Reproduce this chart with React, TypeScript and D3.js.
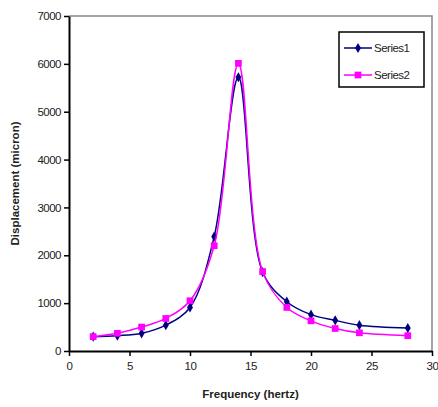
import React, { useEffect, useRef } from 'react';
import * as d3 from 'd3';

// Chart data
const frequency = [2, 4, 6, 8, 10, 12, 14, 16, 18, 20, 22, 24, 28];
const series1 = [300, 320, 370, 540, 910, 2390, 5720, 1650, 1030, 760, 640, 540, 480];
const series2 = [300, 370, 500, 680, 1050, 2200, 6010, 1660, 910, 630, 470, 380, 320];
const seriesNames = ['Series1', 'Series2'];
const xTicks = [0, 5, 10, 15, 20, 25, 30];
const yTicks = [0, 1000, 2000, 3000, 4000, 5000, 6000, 7000];

const App = () => {
  const chartRef = useRef<SVGSVGElement>(null);

  useEffect(() => {
    const width = 438;
    const height = 407;
    const margin = { top: 16, right: 6, bottom: 56, left: 69 };
    const chartWidth = width - margin.left - margin.right;
    const chartHeight = height - margin.top - margin.bottom;

    const svg = d3.select(chartRef.current);
    svg.selectAll('*').remove();
    svg.attr('width', width).attr('height', height)
      .style('font-family', 'Arial, "Liberation Sans", sans-serif');

    const g = svg.append('g').attr('transform', `translate(${margin.left},${margin.top})`);

    const xScale = d3.scaleLinear().domain([0, 30]).range([0, chartWidth]);
    const yScale = d3.scaleLinear().domain([0, 7000]).range([chartHeight, 0]);

    // plot area frame (top/right in gray)
    g.append('path')
      .attr('d', `M0,0H${chartWidth}V${chartHeight}`)
      .attr('fill', 'none')
      .attr('stroke', '#888')
      .attr('stroke-width', 1.5);

    // axes
    const xAxis = g.append('g')
      .attr('transform', `translate(0,${chartHeight})`)
      .call(d3.axisBottom(xScale).tickValues(xTicks).tickFormat(d3.format('d')).tickSize(5).tickSizeOuter(0).tickPadding(6));
    const yAxis = g.append('g')
      .call(d3.axisLeft(yScale).tickValues(yTicks).tickFormat(d3.format('d')).tickSize(5).tickSizeOuter(0).tickPadding(3));
    [xAxis, yAxis].forEach(a => {
      a.select('.domain').attr('stroke', '#000').attr('stroke-width', 2);
      a.selectAll('.tick line').attr('stroke', '#000').attr('stroke-width', 1.5);
      a.selectAll('.tick text').attr('fill', '#222').style('font-size', '11.5px').style('letter-spacing', '-0.5px');
    });

    const line = d3.line<number>()
      .x((_, i) => xScale(frequency[i]))
      .y(d => yScale(d))
      .curve(d3.curveCatmullRom.alpha(0.5));

    const colors = ['#000080', '#ff00ff'];
    const data = [series1, series2];
    const diamond = d3.symbol().type(d3.symbolDiamond).size(30);
    const square = d3.symbol().type(d3.symbolSquare).size(45);
    const symbols = [diamond, square];

    // Series1 first, Series2 on top (as Excel draws them)
    [0, 1].forEach(s => {
      g.append('path')
        .datum(data[s])
        .attr('d', line)
        .attr('fill', 'none')
        .attr('stroke', colors[s])
        .attr('stroke-width', 1.5);

      g.append('g').selectAll('path')
        .data(data[s])
        .enter()
        .append('path')
        .attr('d', symbols[s])
        .attr('transform', (d, i) => `translate(${xScale(frequency[i])},${yScale(d)})`)
        .attr('fill', colors[s]);
    });

    // axis titles
    svg.append('text')
      .attr('x', margin.left + chartWidth / 2)
      .attr('y', 398)
      .attr('text-anchor', 'middle')
      .style('font-size', '11.5px')
      .style('font-weight', 'bold')
      .attr('fill', '#222')
      .text('Frequency (hertz)');

    svg.append('text')
      .attr('transform', `translate(19,${margin.top + chartHeight / 2}) rotate(-90)`)
      .attr('text-anchor', 'middle')
      .style('font-size', '11.5px')
      .style('font-weight', 'bold')
      .attr('fill', '#222')
      .text('Displacement (micron)');

    // legend
    const legend = svg.append('g').attr('transform', 'translate(339,32)');
    legend.append('rect')
      .attr('width', 85).attr('height', 55)
      .attr('fill', '#fff').attr('stroke', '#000').attr('stroke-width', 1.5);
    seriesNames.forEach((name, i) => {
      const y = 16 + i * 27;
      legend.append('line')
        .attr('x1', 5).attr('x2', 33).attr('y1', y).attr('y2', y)
        .attr('stroke', colors[i]).attr('stroke-width', 1.5);
      legend.append('path')
        .attr('d', symbols[i])
        .attr('transform', `translate(19,${y})`)
        .attr('fill', colors[i]);
      legend.append('text')
        .attr('x', 35).attr('y', y + 4)
        .style('font-size', '11.5px')
        .style('letter-spacing', '-0.5px')
        .attr('fill', '#222')
        .text(name);
    });
  }, []);

  return <svg ref={chartRef} style={{ position: 'absolute', left: 0, top: 0 }}></svg>;
};

export default App;
